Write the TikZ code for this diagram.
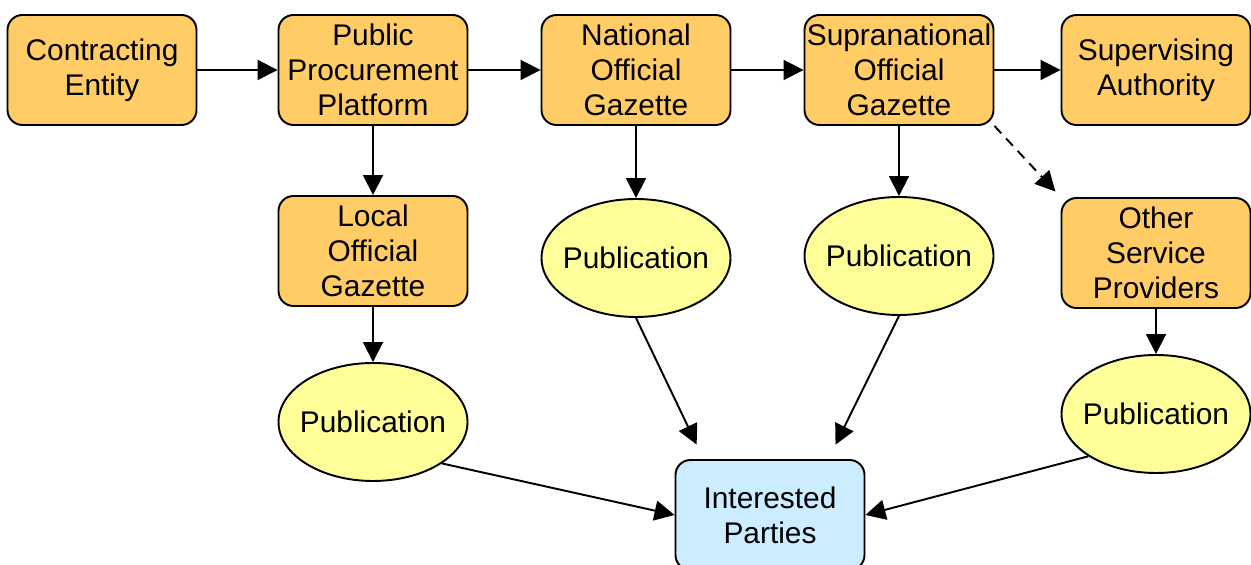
\documentclass[tikz,border=0pt]{standalone}
\usepackage{fontspec}
\setmainfont{Liberation Sans}
\usetikzlibrary{arrows.meta,shapes.geometric}

\definecolor{agencyorange}{HTML}{FFCC66}
\definecolor{pubyellow}{HTML}{FFFF99}
\definecolor{partyblue}{HTML}{CCECFF}

\begin{document}
\begin{tikzpicture}[
    font=\fontsize{17}{19.8}\selectfont,
    agency/.style={rectangle, draw=black, line width=1.1pt, minimum width=3.78cm, minimum height=2.2cm, inner sep=0pt, align=center, fill=agencyorange, rounded corners=0.3cm},
    publication/.style={ellipse, draw=black, line width=1.1pt, minimum width=3.78cm, minimum height=2.36cm, inner xsep=-0.6cm, inner ysep=0pt, fill=pubyellow},
    party/.style={rectangle, draw=black, line width=1.1pt, minimum width=3.78cm, minimum height=2.2cm, inner sep=0pt, align=center, fill=partyblue, rounded corners=0.3cm},
    arrow/.style={-{Triangle[length=0.4cm, width=0.4cm]}, line width=1.1pt, black},
    optional/.style={arrow, dash pattern=on 0.2cm off 0.14cm}
]
\useasboundingbox (0,0) rectangle (25.02,-11.3);

\node[agency] (entity) at (2.04,-1.4) {Contracting\\Entity};
\node[agency] (platform) at (7.46,-1.4) {Public\\Procurement\\Platform};
\node[agency] (national) at (12.72,-1.4) {National\\Official\\Gazette};
\node[agency] (supra) at (17.98,-1.4) {Supranational\\Official\\Gazette};
\node[agency] (authority) at (23.12,-1.4) {Supervising\\Authority};
\node[agency] (local) at (7.46,-5.02) {Local\\Official\\Gazette};
\node[agency] (others) at (23.12,-5.06) {Other\\Service\\Providers};

\node[publication] (pubnational) at (12.72,-5.16) {Publication};
\node[publication] (pubsupra) at (17.98,-5.12) {Publication};
\node[publication] (publocal) at (7.46,-8.44) {Publication};
\node[publication] (pubothers) at (23.12,-8.28) {Publication};

\node[party] (parties) at (15.4,-10.3) {Interested\\Parties};

\draw[arrow] (entity) -- (platform);
\draw[arrow] (platform) -- (national);
\draw[arrow] (national) -- (supra);
\draw[arrow] (supra) -- (authority);
\draw[arrow] (platform) -- (local);
\draw[arrow] (local) -- (publocal);
\draw[arrow] (national) -- (pubnational);
\draw[arrow] (supra) -- (pubsupra);
\draw[optional, shorten >=0.15cm] (supra.south east) -- (others.north west);
\draw[arrow] (others) -- (pubothers);

\draw[arrow, shorten >=0.32cm] (pubnational.south) -- ([xshift=0.58cm]parties.north west);
\draw[arrow, shorten >=0.32cm] (pubsupra.south) -- ([xshift=-0.74cm]parties.north east);
\draw[arrow] (publocal.-31) -- (parties.west);
\draw[arrow] (pubothers.-148) -- (parties.east);
\end{tikzpicture}
\end{document}
